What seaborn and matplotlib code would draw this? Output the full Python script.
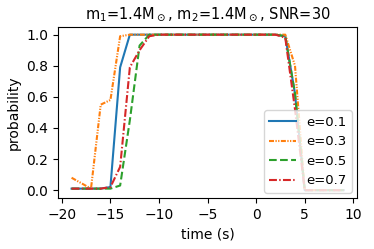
import matplotlib
matplotlib.use("Agg")
import matplotlib.pyplot as plt
import seaborn as sns
import pandas as pd

# -----------------------------
# Data
# -----------------------------
time_s = list(range(-19, 10))

prob_e01 = [0.01, 0.01, 0.01, 0.01, 0.02, 0.79, 1.0, 1.0, 1.0, 1.0,
            1.0, 1.0, 1.0, 1.0, 1.0, 1.0, 1.0, 1.0, 1.0, 1.0,
            1.0, 1.0, 0.99, 0.62, 0.0, 0.0, 0.0, 0.0, 0.0]
prob_e03 = [0.08, 0.045, 0.01, 0.55, 0.58, 0.99, 1.0, 1.0, 1.0, 1.0,
            1.0, 1.0, 1.0, 1.0, 1.0, 1.0, 1.0, 1.0, 1.0, 1.0,
            1.0, 1.0, 1.0, 0.8, 0.0, 0.0, 0.0, 0.0, 0.0]
prob_e05 = [0.01, 0.01, 0.01, 0.01, 0.01, 0.03, 0.45, 0.93, 1.0, 1.0,
            1.0, 1.0, 1.0, 1.0, 1.0, 1.0, 1.0, 1.0, 1.0, 1.0,
            1.0, 1.0, 0.99, 0.62, 0.0, 0.0, 0.0, 0.0, 0.0]
prob_e07 = [0.01, 0.01, 0.01, 0.01, 0.02, 0.15, 0.79, 0.9, 0.99, 1.0,
            1.0, 1.0, 1.0, 1.0, 1.0, 1.0, 1.0, 1.0, 1.0, 1.0,
            1.0, 1.0, 0.98, 0.52, 0.0, 0.0, 0.0, 0.0, 0.0]

labels = ["e=0.1", "e=0.3", "e=0.5", "e=0.7"]
series = [prob_e01, prob_e03, prob_e05, prob_e07]

df = pd.concat(
    [pd.DataFrame({"time": time_s, "prob": s, "e": lab}) for lab, s in zip(labels, series)],
    ignore_index=True,
)

palette = dict(zip(labels, sns.color_palette("tab10", 4)))
dashes = {
    "e=0.1": "",
    "e=0.3": (2.4, 0.7, 0.6, 0.7, 0.6, 0.7),
    "e=0.5": (3.7, 1.6),
    "e=0.7": (3.8, 1.1, 0.7, 1.1),
}

# -----------------------------
# Plot
# -----------------------------
fig = plt.figure(figsize=(3.74, 2.49), dpi=100)
ax = fig.add_axes([0.155, 0.205, 0.80, 0.687])

sns.lineplot(
    data=df,
    x="time",
    y="prob",
    hue="e",
    style="e",
    palette=palette,
    dashes=dashes,
    linewidth=1.5,
    ax=ax,
)

ax.set_title(r"m$_1$=1.4M$_\odot$, m$_2$=1.4M$_\odot$, SNR=30", fontsize=10.5)
ax.set_xlabel("time (s)", fontsize=10)
ax.set_ylabel("probability", fontsize=10)
ax.tick_params(labelsize=10)
ax.set_xticks([-20, -15, -10, -5, 0, 5, 10])

sns.move_legend(ax, "lower right", title=None, fontsize=9.5,
                borderaxespad=0.4)

fig.savefig("out.png", dpi=100)
